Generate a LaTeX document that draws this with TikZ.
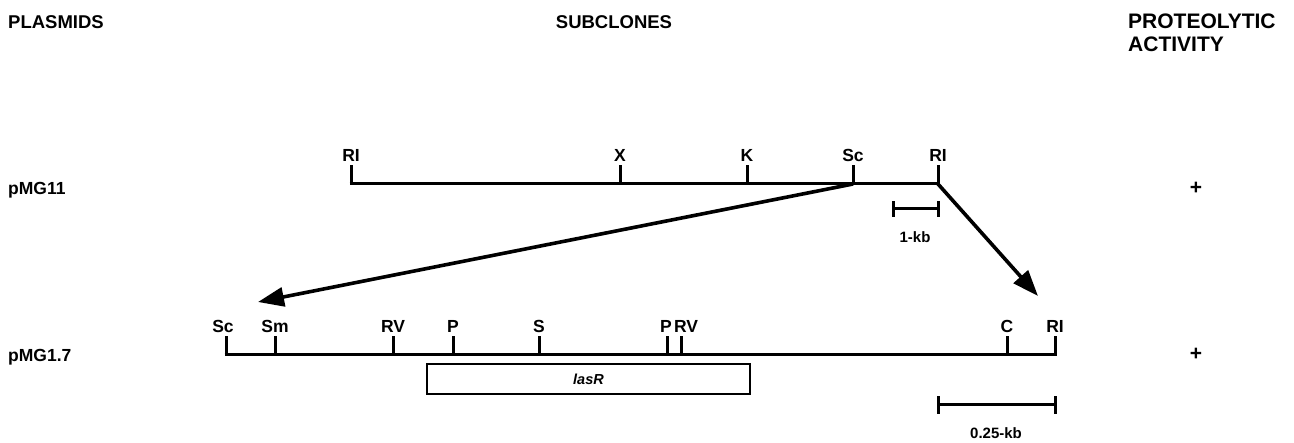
\documentclass[tikz,border=0pt]{standalone}
\usepackage{fontspec}
\setmainfont{Liberation Sans}
\usetikzlibrary{arrows.meta}
\begin{document}
\begin{tikzpicture}[x=1pt,y=-1pt,
  lbl/.style={font=\bfseries\fontsize{17.5}{20}\selectfont, inner sep=0pt, anchor=base},
  hdr/.style={font=\bfseries\fontsize{18.5}{23}\selectfont, inner sep=0pt, anchor=base west, align=left},
  pname/.style={font=\bfseries\fontsize{17.5}{20}\selectfont, inner sep=0pt, anchor=base west},
  dna/.style={line width=3pt},
  tickmark/.style={line width=3pt},
  bigarrow/.style={line width=3.6pt, -{Triangle[length=26pt,width=19pt]}},
  scalebar/.style={line width=3pt},
  kb/.style={font=\bfseries\fontsize{15}{17}\selectfont, inner sep=0pt, anchor=base}
]
\useasboundingbox (0,0) rectangle (1294,443);

% headers
\node[hdr] (hplas) at (8,29) {PLASMIDS};
\node[hdr, anchor=base] (hsub) at (614,29) {SUBCLONES};
\node[hdr, font=\bfseries\fontsize{21}{23}\selectfont] (hprot) at (1128,29) {PROTEOLYTIC};
\node[hdr, font=\bfseries\fontsize{21}{23}\selectfont] (hact) at (1128,52) {ACTIVITY};

% plasmid names and activity
\node[pname] (n11) at (8,195) {pMG11};
\node[pname] (n17) at (8,362) {pMG1.7};
\node[pname, font=\bfseries\fontsize{21}{24}\selectfont, anchor=base] (plus1) at (1196,195) {+};
\node[pname, font=\bfseries\fontsize{21}{24}\selectfont, anchor=base] (plus2) at (1196,361) {+};

% top map
\foreach \n/\x/\t in {tRIa/351/RI, tX/620/X, tK/747/K, tSc/853/Sc, tRIb/938/RI}{
  \coordinate (\n) at (\x,184);
  \draw[tickmark] (\n) -- ++(0,-19) coordinate (\n top);
  \node[lbl] (\n lab) at ([yshift=3pt]\n top) {\t};
}
\draw[dna] ([xshift=-1.5pt]tRIa) -- ([xshift=1.5pt]tRIb);

% 1-kb scale
\coordinate (k1l) at (893,209);
\coordinate (k1r) at (938,209);
\draw[scalebar] (k1l) -- (k1r);
\draw[scalebar] ([yshift=-8pt]k1l) -- ([yshift=8pt]k1l);
\draw[scalebar] ([yshift=-8pt]k1r) -- ([yshift=8pt]k1r);
\node[kb] (k1lab) at (915,243) {1-kb};

% bottom map
\foreach \n/\x in {bSc/226, bSm/275, bRVa/393, bPa/453, bS/539, bPb/667, bRVb/681, bC/1007, bRI/1055}{
  \coordinate (\n) at (\x,355);
  \draw[tickmark] (\n) -- ++(0,-19) coordinate (\n top);
}
\foreach \n/\t/\dx in {bSc/Sc/-3, bSm/Sm/0, bRVa/RV/0, bPa/P/0, bS/S/0, bPb/P/-1, bRVb/RV/5, bC/C/0, bRI/RI/0}{
  \node[lbl] (\n lab) at ([xshift=\dx pt, yshift=3pt]\n top) {\t};
}
\draw[dna] ([xshift=-1.5pt]bSc) -- ([xshift=1.5pt]bRI);

% lasR box
\node[draw, line width=2.2pt, minimum width=323pt, minimum height=30pt, inner sep=0pt,
  font=\bfseries\itshape\fontsize{14.5}{16}\selectfont] (lasr) at (588.5,379) {lasR};

% 0.25-kb scale
\coordinate (k2l) at (938,405);
\coordinate (k2r) at (1055,405);
\draw[scalebar] (k2l) -- (k2r);
\draw[scalebar] ([yshift=-9pt]k2l) -- ([yshift=9pt]k2l);
\draw[scalebar] ([yshift=-9pt]k2r) -- ([yshift=9pt]k2r);
\node[kb] (k2lab) at (996,439) {0.25-kb};

% arrows
\coordinate (tip1) at (258,302);
\coordinate (tip2) at (1038,296);
\draw[bigarrow] (tSc) -- (tip1);
\draw[bigarrow] (tRIb) -- (tip2);
\end{tikzpicture}
\end{document}
